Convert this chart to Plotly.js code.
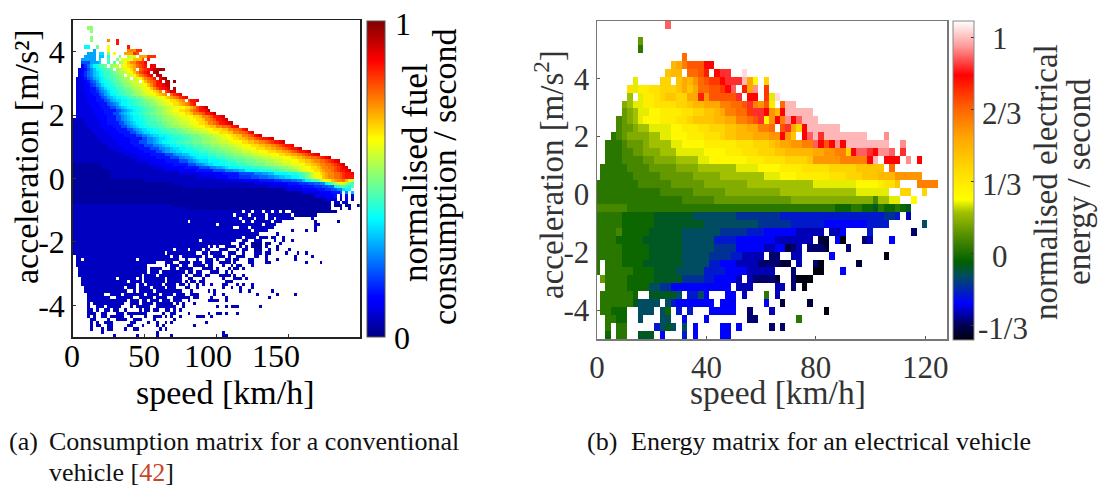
<!DOCTYPE html>
<html><head><meta charset="utf-8">
<script src="https://cdn.plot.ly/plotly-3.0.1.min.js"></script>
<style>html,body{margin:0;padding:0;background:#fff}#g{width:1099px;height:487px}</style>
</head><body><div id="g"></div>
<script>
const levels = "0123456789abcdefghijklmnopqrstuvwxyz";
const fuelTickVals = [0, 50, 100, 150];
const fuelAccelTicks = [-4, -2, 0, 2, 4];
const fuelAccelText = ["-4", "-2", "0", "2", "4"];
const energyTickVals = [0, 40, 80, 120];
const energyAccelTicks = [-4, -2, 0, 2, 4];
const energyAccelText = ["-4", "-2", "0", "2", "4"];
const energyBarVals = [-1/3, 0, 1/3, 2/3, 1];

// run-length rows: first char = colour level, rest = number of cells ('.' = empty)
const fuelRows = [
"","",".5 i2",".6 i1","",".6 i1",".6 i1 .5 q1 .2 u1",".15 u1",".4 d2 .2 h1 .3 m1 .6 u1",
".7 a1 .4 m1 .6 q3 t2",
".5 a3 .1 c2 .1 i1 .1 m1 .3 p3 t1 s1",
".4 a4 .1 b2 .1 e1 .3 h1 .2 k3 .1 p3 t3",
".3 a5 .1 c1 .2 g1 .2 i1 .1 l4 o3 s1 .1 u1",
".3 73 a3 c1 .2 f1 .1 g1 .1 i1 k1 m1 o1 q2 s1 t2 v1",
".3 41 61 81 b1 d1 e1 f1 g1 h1 .1 i1 j1 k1 .1 l1 m1 n1 o1 p1 r1 s1 t1 u1 .1 v2",
".2 31 41 51 71 91 b1 d1 e1 f2 g1 h1 .1 i1 j1 k1 l1 m1 n1 p1 .1 r1 s1 t1 u1 v1 x2 y1 x1",
".2 31 41 61 81 91 b1 c1 d1 e1 f2 g1 h1 i1 j2 k1 l1 m1 o1 q1 s1 t1 u1 v1 .1 x1 y1",
".2 31 41 61 81 91 b1 c1 d1 e1 f2 g1 h2 i1 j1 .1 k1 l1 m1 o1 q1 r1 s1 u1 v1 .1 x2",
".1 32 41 51 71 81 a1 b1 c1 d1 e1 f2 g1 h2 i1 j2 .1 k1 l1 m1 o1 q1 r1 s1 u1 .1 v1 x1 y1",
".1 33 41 51 71 81 a1 c1 d1 e2 f1 g2 h1 i2 j1 k2 l1 .1 m1 o1 q1 r1 s1 u1 v1 .1 w1 x1 .1 y1",
".1 33 42 61 71 91 a1 c1 d1 e2 f1 g2 h1 i2 j1 k2 l2 m1 o1 q1 s1 u2 v1 x2",
".1 33 42 52 71 91 a1 c1 d1 e2 f2 g1 h2 i1 j2 k1 l2 m1 o1 q1 s1 u2 v1 w1 .1 x1",
".1 33 42 52 61 81 91 a1 c1 d1 e2 f2 g1 h2 i1 j2 k1 l2 m1 n1 o1 q1 .1 s1 u1 w2",
".1 34 42 52 71 81 a1 b1 d2 e1 f2 g2 h1 i2 j1 k2 l2 m1 n1 o1 p1 q1 .1 r1 t1 u1 v1",
".1 34 43 52 71 81 a1 b1 c1 d2 e2 f1 g2 h2 i1 j2 k2 l2 m1 n1 o1 p1 q1 r1 t1 u1 v1",
".1 34 43 53 71 81 a1 b1 c2 d2 e2 f2 g1 h2 i2 j1 k2 l2 m1 n2 o1 p1 q1 .1 s1 u2 v1",
".1 35 43 53 71 81 91 a1 c1 d2 e2 f2 g2 h2 i2 j1 k2 l2 m1 n2 o1 p1 q1 r1 t1 u1",
".1 35 44 53 72 91 a1 b1 c1 d2 e2 f2 g2 h2 i2 j2 k2 l2 m2 n2 o1 q1 s1 u1 v1 x1",
".1 36 44 54 72 91 a1 b1 c1 d1 e2 f2 g2 h1 i2 j1 k2 l1 m2 n2 o2 q1 r1 s1 u2 v1 x1",
".1 36 44 53 72 91 a1 b1 c1 d1 e2 f2 g2 h2 i2 j2 k2 l2 m2 n2 o1 q2 r1 s1 u2 v1 x1",
".1 37 44 53 72 91 a1 b1 c1 d2 e2 f2 g2 h2 i2 j2 k2 l3 m2 n2 o1 q2 r1 s1 u2 v1 w1",
"24 35 43 53 72 91 a1 b1 c1 d2 e2 f2 g2 h2 i2 j3 k2 l3 m2 n2 o1 q2 r1 s1 u2 v1 w1",
"24 35 43 54 72 91 a1 b1 c1 d2 e2 f3 g2 h2 i2 j2 k3 l2 m2 n2 o1 q2 r1 s1 u2 v1 w1 x1",
"25 35 44 53 72 91 a1 b1 c1 d2 e2 f3 g2 h2 i3 j2 k3 l2 m2 n2 o2 q2 r2 s1 u2 v1",
"26 35 44 54 72 91 a1 b1 c2 d2 e2 f3 g3 h2 i2 j2 k3 l2 m2 n3 o2 q2 r2 s1 u1 v1",
"27 35 44 54 72 91 a1 b1 c2 d2 e2 f3 g3 h2 i3 j2 k3 l2 m2 n3 o2 q2 r2 s1 u1 v1",
"28 35 45 54 72 92 a1 b1 c2 d3 e2 f3 g3 h3 i2 j3 k2 l2 m2 n2 o2 q2 r1 s1 u1 v1 w1",
"29 35 46 54 72 92 a1 b1 c2 d2 e3 f3 g2 h3 i3 j2 k2 l2 m2 n2 o2 p1 q2 r1 s1 t1 u2 v1 w1",
"210 35 45 53 73 92 a1 b1 c1 d2 e3 f3 g3 h3 i3 j3 k3 l2 m3 n2 o2 p2 q2 r1 s1 t1 u2 v1 w1",
"212 34 45 54 73 92 a1 b1 c2 d2 e3 f3 g3 h3 i3 j3 k3 l2 m3 n3 o2 p2 q2 r1 s1 t1 u2 v1",
"213 35 45 54 73 92 a2 b1 c2 d2 e3 f3 g3 h3 i3 j3 k2 l2 m3 n3 o2 p2 q2 r1 s1 t1 u2 v1 w1",
"215 35 45 54 72 91 a2 b2 c2 d3 e3 f3 g3 h3 i3 j3 k3 l3 m3 n3 o2 p2 q1 r1 s1 t1 u2 v1 w1",
"218 34 45 55 73 91 a2 b2 c1 d3 e3 f3 g3 h3 i3 j3 k3 l4 m3 n2 o2 p2 q2 r1 s1 t1 u1 v1 w1",
"220 34 45 55 73 92 a2 b1 c1 d4 e3 f3 g3 h4 i3 j3 k3 l4 m3 n2 o2 p1 q2 r2 s1 t1 u1 v1 w1",
"222 35 45 55 73 92 a1 b1 c3 d4 e3 f3 g3 h4 i3 j3 k3 l3 m3 n2 o2 p1 q2 r2 s1 t1 u1 v1 w1",
"110 216 34 45 55 73 92 a1 b1 c2 d4 e4 f3 g3 h4 i3 j3 k3 l3 m2 n2 o2 p1 q2 r2 s1 t1 u1 v1 w1",
"110 218 35 46 55 74 92 a2 b1 c1 d4 e4 f4 g3 h3 i3 j2 k2 l2 m2 n2 o1 p1 q2 r2 s1 t1 u1 v1 w1",
"113 218 36 46 56 74 93 a2 b2 d5 e4 f3 g2 h2 i2 j1 k1 l2 m2 n2 o1 p1 q2 r1 s1 t1 u2 v1 w1",
"113 224 38 47 56 75 93 a2 b2 d5 e3 f2 g1 h1 i1 k1 m2 n1 o1 p1 q2 r2 s1 t1 u2 v1",
"113 230 37 44 54 64 73 83 92 a2 b2 c2 d3 f2 h1 j1 k1 l1 m2 o1 p1 q2 r2 s1 t1 u3",
"125 228 37 45 55 63 73 82 92 b1 d2 f2 h1 j1 l1 m2 o1 p1 q2 r1 o1 m1 k1",
"135 228 37 45 54 63 72 82 92 d1 f1 h1 j1 l1 m1 l1 j1 h1 f1",
"138 230 37 45 54 63 72 82 d1 e1 f1 g1 f1 e1 g1",
"140 134 36 45 53 62 72 92 c1 d1 d1",
"140 140 36 44 53 71 .1 91 .1 b1",
"140 144 34 43 51 .1 41 .1 41 .1 21",
"140 148 34 .1 21 .1 31 .1 21",
"130 160 .1 22 .1 22",
"235 155 .1 13 .1 12 .2 11",
"240 150 .3 11 .2 11",
"259 .1 22 .1 23 .1 22 .1 22 .1 11 .2 116",
"256 .1 24 .1 25 .1 28 .1 18",
"258 .1 24 .1 23 .1 22 .1 26 .6 21",
"240 .1 218 .1 22 .1 26 .1 23 .11 21 .7 11",
"250 .1 215 .1 24 .13 22",
"256 .2 23 .1 28 .14 21",
"262 .1 25 .8 21 .4 21 .2 21",
"265 .6 21",
"259 .1 24 .1 23 .1 22 .2 21",
"244 .1 212 .2 22 .2 23 .4 21 .2 21 .2 21",
"255 .3 22 .2 14 .1 12 .3 21",
"247 .1 21 .1 21 .2 24 .1 21 .1 21 .1 14 .1 21 .3 11",
"235 .1 24 .1 24 .1 22 .3 23 .3 21 .1 22 .2 13 .2 21 .2 21 .3 21",
"232 .1 210 .2 22 .1 24 .2 23 .2 21 .3 23 .1 22 .5 21 .3 21 .2 21",
".1 233 .1 22 .1 27 .1 21 .2 24 .1 21 .2 23 .3 22 .2 21 .9 21 .5 21",
".1 22 .1 218 .1 214 .2 21 .3 21 .2 23 .1 21 .2 22 .1 22 .3 22 .4 21 .3 21 .5 21",
".1 228 .3 23 .2 24 .1 23 .1 23 .2 24 .1 21 .4 22 .4 22 .12 21 .4 21",
".1 225 .6 21 .1 23 .1 22 .2 24 .1 22 .3 21 .2 21 .1 22 .3 21",
".2 224 .1 24 .3 22 .1 25 .3 24 .1 21 .3 21 .1 22 .1 21",
".2 224 .1 23 .1 28 .1 22 .1 22 .3 23 .2 21 .1 21",
".2 222 .1 24 .1 28 .1 21 .2 23 .1 22 .3 24 .1 21 .2 21",
".3 212 .1 26 .1 21 .1 27 .1 25 .2 22 .3 21 .6 21 .3 23 .1 21",
".3 216 .1 24 .1 27 .1 25 .1 21 .1 22 .1 22 .7 23",
".3 219 .1 22 .1 25 .1 24 .1 22 .1 21 .2 21 .1 21 .2 21 .3 22 .3 21 .1 21 .2 21",
".4 214 .1 23 .1 24 .1 24 .1 23 .3 22 .2 21 .8 21 .2 21 .2 21 .3 21",
".4 215 .2 21 .1 25 .1 29 .3 21 .5 21 .1 21 .8 21 .2 21 .7 21",
".5 26 .2 24 .1 27 .1 24 .1 24 .1 23 .2 23 .5 21 .2 21 .11 21 .6 21 .5 21",
".5 28 .2 26 .2 25 .1 24 .2 26 .1 22 .4 21 .4 21 .14 21",
".5 214 .1 23 .1 22 .1 23 .1 23 .1 23 .2 21 .6 24 .2 21",
".5 21 .1 211 .2 23 .1 24 .1 26 .1 21 .1 21 .3 21",
".5 21 .2 23 .1 25 .3 21 .1 25 .2 27 .2 21 .11 21 .2 21 .1 23 .7 21",
".5 22 .1 21 .2 22 .1 22 .2 21 .4 21 .1 22 .1 22 .2 22 .1 21 .1 21",
".5 23 .2 22 .3 23 .1 27 .5 21 .2 22 .4 21 .6 21 .2 22 .1 21 .3 21",
".5 21 .1 21 .2 22 .1 25 .2 21 .4 21 .2 23 .1 21 .1 21 .2 21 .5 23 .2 21",
".6 22 .4 21 .2 24 .2 23 .4 21 .6 21",
".6 21 .1 21 .2 23 .6 22 .4 21 .2 21 .2 21 .1 21 .11 21",
".6 21 .1 22 .2 22 .5 22 .3 21 .4 21 .1 21 .10 21",
".6 21 .3 21 .1 22 .4 21 .2 22 .7 21 .1 21",
".10 21 .18 21 .22 21",
".14 21 .7 21 .6 21 .4 21 .17 22"
];

const energyRows = [
".13 v1","",".8 c1",".8 a1",".16 p1",
".14 l1 m1 o1 q3 t2",
".13 k1 l2 .1 p2 q1 s1 .1 t1 u2 .2 y1",
".7 f1 .4 j2 .1 k1 m1 l1 n1 p1 q1 r2 t1 u3 x1 m1 g1 .1 j1",
".6 i1 f1 h2 i2 j3 k1 m1 k1 m1 p2 q2 r1 t1 v1 .1 s1 m1 w1 .1 r1",
".6 e1 .1 f1 h2 i1 j1 k2 j2 m2 s1 n1 q5 u1 .1 t2 .1 r1 f1 y1",
".5 d1 e1 f2 h2 i4 j2 k1 l2 m3 o2 p2 q1 u1 o1 n1 q1 h1 .1 p1 x2",
".5 c1 d1 e1 f2 g2 h4 i2 j2 k2 l1 m1 o2 p2 r1 u2 t1 n1 l1 t1 x5",
".4 b1 c1 d1 e1 f1 g3 h3 i2 j1 k2 k2 l2 m2 o2 p1 q1 u1 g1 n1 t1 o1 w1 t1 v1 x3",
".4 b1 c2 d1 e1 e1 f2 f2 g2 h3 i2 j1 j2 k2 l2 m2 o2 p1 .1 q1 u1 m1 j1 t1 x6",
".3 a1 b1 c1 d4 e2 f2 g3 h3 i3 j1 k2 l3 m3 n2 t1 n1 k1 .1 t1 v1 x1 u1 x8 .3 w1",
".2 a3 b1 c3 d1 e4 f2 g4 h6 i3 j3 k1 l1 m2 n2 o2 v1 t1 q1 t1 w1 t1 x8 .2 w1",
".2 a3 b2 c2 d3 e3 f2 f3 g4 h3 i3 j3 k2 l3 l2 m2 n2 o2 j1 t1 v2 u1 t1 w2 v1 .1 u1",
".2 a2 a1 b2 b2 c2 d2 d2 e2 e2 f2 g4 g3 h3 i2 i2 j2 j2 k1 n5 o5 t1 x1 .1 t3 .1 w1 .1 t1",
".1 a5 b4 c5 d4 e4 e3 f4 g4 h4 i5 j5 k5 .1 p1",
".1 a6 b5 c6 d5 e5 e3 f3 g3 h3 h3 i3 j3 k3 l3 n5",
"a8 b6 c6 d8 e8 e4 f4 f4 g2 g2 h1 i2 k1 .3 o4",
"a12 b6 c6 d10 e14 f3 f3 .2 j2 .2 j1",
"a16 b6 c14 d15 b1 e2 f2 .2 g1",
"b6 a38 93 a2 92 81 a1 92 a1 91 81",
"a5 96 87 78 68 519 62 51 .1 31",
"a5 96 89 710 66 56 48 54 .6 71",
"a4 b1 95 86 77 65 53 46 35 .1 32 41 .4 51 .7 21",
"a4 95 87 76 54 47 37 .1 12 .1 41 01 .3 21 31 .3 41",
"a5 95 86 76 64 45 32 42 11 21 31 .1 23 11 .3 21",
"a5 95 86 75 64 52 34 .1 22 .2 32 .5 41 .9 01",
"a1 .1 a3 94 87 75 52 43 34 24 12 .1 31 .2 21 01 .6 11",
"a1 .1 a3 a2 94 84 75 54 44 35 .3 21 .3 02 .3 41",
".1 c1 a4 95 85 64 52 44 31 .1 31 24 11 .2 21 03",
".2 a4 94 72 62 411 .1 33 .4 32 .1 21 .1 01",
".1 a6 91 .2 85 71 .1 52 71 41 .3 42 .1 31 .3 a1 .1 31",
".1 a6 81 74 .1 71 51 47 .1 43 .5 41 .2 11 .4 11",
".1 a2 93 .2 73 .1 71 91 .1 51 .1 51 .3 45 .2 21 .3 31 .9 01",
".2 a2 92 .2 71 .3 72 .2 41 .3 41 .7 22 .7 a1",
".2 a1 .1 a2 .5 51 71 81 71 .1 71 .1 41 .4 42 .1 41 .5 21 .1 21",
".2 91 .1 a2 .2 83 .1 41 .3 51 .1 41 .4 42"
];

const jet = [[0,"#00007f"],[0.11,"#0000ff"],[0.125,"#0000ff"],[0.375,"#00ffff"],[0.5,"#7fff7f"],[0.625,"#ffff00"],[0.875,"#ff0000"],[1,"#7f0000"]];
const energyScale = [[0,"#000010"],[0.045,"#000050"],[0.115,"#0000ff"],[0.2,"#004c60"],[0.245,"#006000"],[0.32,"#4d8a00"],[0.4,"#a0c000"],[0.44,"#ffff00"],[0.53,"#ffdc00"],[0.637,"#ffa400"],[0.73,"#ff6000"],[0.83,"#ff0000"],[0.92,"#ff9999"],[1,"#ffffff"]];

function decode(rows, cols, lo, hi) {
  return rows.map(r => {
    const out = [];
    r.split(" ").filter(Boolean).forEach(t => {
      const n = +t.slice(1);
      const v = t[0] === "." ? null : lo + (hi - lo) * levels.indexOf(t[0]) / 35;
      for (let i = 0; i < n; i++) out.push(v);
    });
    while (out.length < cols) out.push(null);
    return out.slice(0, cols);
  });
}
const W = 1099, H = 487;
const px = x => x / W, py = y => 1 - y / H;
const serif = "Liberation Serif";
const fuelZ = decode(fuelRows, 100, 0, 1);
const energyZ = decode(energyRows, 65, -0.4, 1.076);
const fuelSpeed = fuelZ[0].map((_, i) => 1 + 2 * i);
const fuelAccel = fuelZ.map((_, i) => 4.95 - 0.1 * i);
const energySpeed = energyZ[0].map((_, i) => 2 * i);
const energyAccel = energyZ.map((_, i) => 5.8625 - 0.275 * i);

const traces = [
 {type:"heatmap", x:fuelSpeed, y:fuelAccel, z:fuelZ, xaxis:"x", yaxis:"y", zmin:0, zmax:1, colorscale:jet, zsmooth:false, hoverinfo:"skip",
  colorbar:{x:px(367), xanchor:"left", xpad:0, ypad:0, y:py(21), yanchor:"top", len:316, lenmode:"pixels", thickness:18, thicknessmode:"pixels",
    tickvals:[0,1], ticks:"", outlinecolor:"#555", outlinewidth:1, showticklabels:false}},
 {type:"heatmap", x:energySpeed, y:energyAccel, z:energyZ, xaxis:"x2", yaxis:"y2", zmin:-0.4, zmax:1.076, colorscale:energyScale, zsmooth:false, hoverinfo:"skip",
  colorbar:{x:px(953), xanchor:"left", xpad:0, ypad:0, y:py(21), yanchor:"top", len:319, lenmode:"pixels", thickness:21, thicknessmode:"pixels",
    tickvals:energyBarVals, ticks:"inside", ticklen:3, tickcolor:"#333", outlinecolor:"#888", outlinewidth:1, showticklabels:false}}
];

const tfL = {family:serif, size:32, color:"#000"};
const tfR = {family:serif, size:31, color:"#333"};
function note(x, y, text, size, color, extra) {
  return Object.assign({xref:"paper", yref:"paper", x:px(x), y:py(y), text:text, showarrow:false,
    font:{family:serif, size:size, color:color}, xanchor:"center", yanchor:"middle", borderpad:0}, extra||{});
}
const fuelXShift = [-1, -1, -8, -12];
const annotations = [
  ...fuelTickVals.map((v,i) => ({xref:"x", yref:"paper", x:v, y:py(356), text:String(v), showarrow:false, xshift:fuelXShift[i], font:tfL, xanchor:"center", yanchor:"middle"})),
  note(225, 392, "speed [km/h]", 34, "#000"),
  note(26, 157, "acceleration [m/s²]", 34, "#000", {textangle:-90}),
  note(403, 24, "1", 32, "#000"),
  note(402, 338, "0", 32, "#000"),
  note(415, 173, "normalised fuel", 35, "#000", {textangle:-90}),
  note(444, 177, "consumption / second", 34, "#000", {textangle:-90}),
  note(778, 392, "speed [km/h]", 33.5, "#333"),
  note(549, 175, "acceleration [m/s<sup>2</sup>]", 33, "#333", {textangle:-90}),
  note(1000, 38, "1", 31, "#333"),
  note(1002, 113, "2/3", 31, "#333"),
  note(1002, 184, "1/3", 31, "#333"),
  note(1000, 256, "0", 31, "#333"),
  note(1003, 328, "-1/3", 31, "#333"),
  note(1046, 182, "normalised electrical", 33, "#333", {textangle:-90}),
  note(1079, 182, "energy / second", 33, "#333", {textangle:-90}),
  note(8, 441, "(a)", 26, "#111", {xanchor:"left"}),
  note(48, 441, "Consumption matrix for a conventional", 26, "#111", {xanchor:"left"}),
  note(48, 472, 'vehicle [<span style="color:#c8472a">42</span>]', 26, "#111", {xanchor:"left"}),
  note(586, 441, "(b)", 26, "#111", {xanchor:"left"}),
  note(630, 441, "Energy matrix for an electrical vehicle", 26, "#111", {xanchor:"left"})
];

const layout = {
  width:W, height:H, margin:{l:0,r:0,t:0,b:0}, paper_bgcolor:"#fff", plot_bgcolor:"#fff", showlegend:false,
  font:{family:serif},
  xaxis:{domain:[px(72.7),px(360)], range:[0,200], tickvals:fuelTickVals, showticklabels:false, ticks:"inside", ticklen:3, tickcolor:"#333", showgrid:false, zeroline:false, showline:true, mirror:true, linecolor:"#222", linewidth:1.5},
  yaxis:{domain:[py(337),py(20)], range:[-5,5], tickvals:fuelAccelTicks, ticktext:fuelAccelText, tickfont:tfL, ticks:"inside", ticklen:3, tickcolor:"#333", showgrid:false, zeroline:false, showline:true, mirror:true, linecolor:"#222", linewidth:1.5},
  xaxis2:{domain:[px(597),px(947)], range:[0,128], anchor:"y2", tickvals:energyTickVals, tickfont:tfR, ticks:"inside", ticklen:3, tickcolor:"#555", showgrid:false, zeroline:false, showline:true, mirror:true, linecolor:"#777", linewidth:1.5},
  yaxis2:{domain:[py(339),py(21)], range:[-5,6], anchor:"x2", tickvals:energyAccelTicks, ticktext:energyAccelText, tickfont:tfR, ticks:"inside", ticklen:3, tickcolor:"#555", showgrid:false, zeroline:false, showline:true, mirror:true, linecolor:"#777", linewidth:1.5},
  annotations
};
Plotly.newPlot("g", traces, layout, {staticPlot:true, displayModeBar:false});
</script></body></html>
